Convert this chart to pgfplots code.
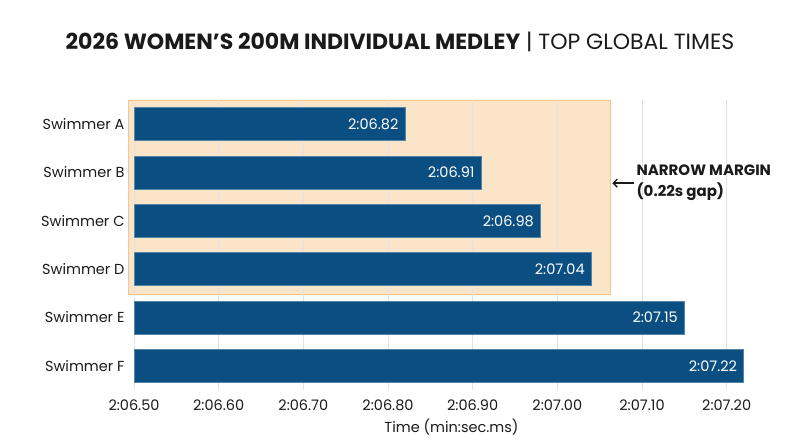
\documentclass[border=0pt]{standalone}
\usepackage{pgfplots}
\pgfplotsset{compat=1.18}
\usetikzlibrary{arrows.meta}
\usepackage{fontspec}
\setmainfont{Poppins}
\definecolor{barblue}{HTML}{0B4F82}
\definecolor{hlfill}{HTML}{FBE5C9}
\definecolor{hledge}{HTML}{F6C48C}
\definecolor{gridgray}{HTML}{E3E3E3}
\definecolor{ink}{HTML}{1A1A1A}
\pgfdeclarelayer{background}
\pgfsetlayers{background,main}
\begin{document}
\begin{tikzpicture}
\path[use as bounding box] (0pt,0pt) rectangle (800pt,447pt);
\node[font=\fontsize{22}{26}\selectfont, text=ink] at (400pt,405pt)
  {\textbf{2026 WOMEN’S 200M INDIVIDUAL MEDLEY} | TOP GLOBAL TIMES};
% x values: seconds past 2:00
\begin{axis}[
  at={(134pt,57pt)}, anchor=south west,
  scale only axis,
  width=635pt, height=290pt,
  xmin=6.5, xmax=7.25,
  ymin=-0.5, ymax=5.5,
  y dir=reverse,
  xbar, bar shift=0pt, bar width=33pt,
  axis line style={draw=none},
  major tick length=0pt,
  xmajorgrids, grid style={gridgray, line width=0.8pt},
  xtick={6.5,6.6,6.7,6.8,6.9,7.0,7.1,7.2},
  xticklabels={2:06.50,2:06.60,2:06.70,2:06.80,2:06.90,2:07.00,2:07.10,2:07.20},
  ytick={0,1,2,3,4,5},
  yticklabels={Swimmer A,Swimmer B,Swimmer C,Swimmer D,Swimmer E,Swimmer F},
  ticklabel style={font=\fontsize{14.5}{17}\selectfont, text=ink},
  xticklabel style={yshift=-6pt},
  yticklabel style={xshift=-6pt},
  xlabel={Time (min:sec.ms)},
  xlabel style={font=\fontsize{14.5}{17}\selectfont, text=ink, yshift=-2pt},
  nodes near coords,
  point meta=explicit symbolic,
  nodes near coords style={anchor=east, text=white, font=\fontsize{14.5}{17}\selectfont, xshift=-3pt},
]
\coordinate (hlbl) at (axis cs:6.493,3.52);
\coordinate (hltr) at (axis cs:7.063,-0.5);
\addplot[fill=barblue, draw=barblue!70!white, line width=0.5pt] coordinates {
  (6.82,0) [2:06.82]
  (6.91,1) [2:06.91]
  (6.98,2) [2:06.98]
  (7.04,3) [2:07.04]
  (7.15,4) [2:07.15]
  (7.22,5) [2:07.22]
};
\coordinate (arrtail) at (axis cs:7.091,1.22);
\coordinate (arrtip) at (axis cs:7.065,1.22);
\end{axis}
\begin{pgfonlayer}{background}
\draw[fill=hlfill, draw=hledge, line width=1pt] (hlbl) rectangle (hltr);
\end{pgfonlayer}
\draw[-{Straight Barb[length=4pt,width=8pt]}, line width=1.4pt, ink] (arrtail) -- (arrtip);
\node[anchor=west, align=left, font=\bfseries\fontsize{15}{21}\selectfont, text=ink, inner sep=2pt]
  at (arrtail) {NARROW MARGIN\\(0.22s gap)};
\end{tikzpicture}
\end{document}
